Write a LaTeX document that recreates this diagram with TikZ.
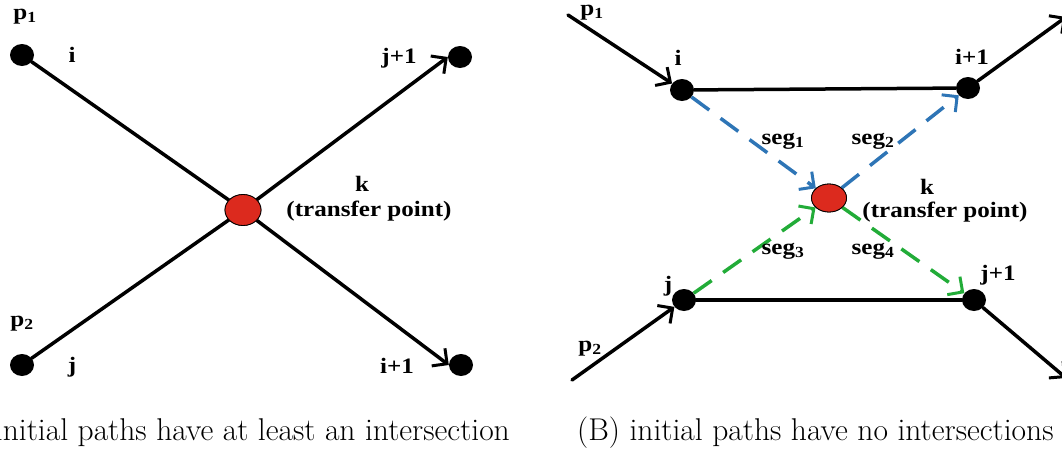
\documentclass[tikz,border=0pt]{standalone}
\usepackage{fontspec}
\newfontfamily\labfont[FakeStretch=1.14]{Liberation Serif}
\usetikzlibrary{arrows.meta,shapes.geometric}
\definecolor{segblue}{RGB}{46,117,182}
\definecolor{seggreen}{RGB}{34,172,56}
\definecolor{tred}{RGB}{220,42,30}
\tikzset{
  dot/.style={ellipse,fill=black,inner sep=0pt,minimum width=24pt,minimum height=22pt},
  tp/.style={ellipse,fill=tred,draw=black,line width=0.8pt,inner sep=0pt,minimum width=36pt,minimum height=31pt},
  lab/.style={font=\labfont\bfseries\fontsize{22}{24}\selectfont,inner sep=0pt},
  blk/.style={line width=3.5pt,line cap=round},
  tip/.style={-{Straight Barb[length=11pt,width=22pt,line width=3pt]}},
  seg/.style={line width=3.5pt,dash pattern=on 22pt off 14pt},
  captxt/.style={font=\fontsize{31.5}{34}\selectfont,inner sep=0pt}
}
\begin{document}
\begin{tikzpicture}[x=1pt,y=-1pt]
\useasboundingbox (0,0) rectangle (1062,450);
% ---------- Panel A ----------
\node[dot] (Ai) at (22,55) {};
\node[dot] (Aj) at (22,365) {};
\node[dot] (Aj1) at (460,57) {};
\node[dot] (Ai1) at (461,365) {};
\node[tp] (Ak) at (243,210) {};
\draw[blk] (Ai) -- (Ak);
\draw[blk,tip] (Ak) -- (Ai1.west);
\draw[blk] (Aj) -- (Ak);
\draw[blk,tip] (Ak) -- (Aj1.west);
\node[tp] at (Ak) {};
\node[lab] (Ap1) at (25,17) {p\textsubscript{1}};
\node[lab] (Ali) at (72,55) {i};
\node[lab] (Alj1) at (399,58) {j+1};
\node[lab] (Alk) at (362,184) {k};
\node[lab] (Altp) at (369,211) {(transfer point)};
\node[lab] (Ap2) at (22,324) {p\textsubscript{2}};
\node[lab] (Alj) at (72,367) {j};
\node[lab] (Ali1) at (397,366) {i+1};
% ---------- Panel B ----------
\coordinate (Bp1s) at (568,15);
\coordinate (Bp2s) at (572,380);
\coordinate (Bo1) at (1066,17);
\coordinate (Bo2) at (1066,378);
\node[dot] (Bi) at (682,90) {};
\node[dot] (Bi1) at (968,88) {};
\node[dot] (Bj) at (684,300) {};
\node[dot] (Bj1) at (974,300) {};
\node[tp,minimum width=35pt,minimum height=28pt] (Bk) at (829,198) {};
\draw[blk] (Bi) -- (Bi1);
\draw[blk] (Bj) -- (Bj1);
\draw[blk,tip] (Bp1s) -- (Bi);
\draw[blk,tip] (Bp2s) -- (Bj);
\draw[blk,tip] (Bi1) -- (Bo1);
\draw[blk,tip] (Bj1) -- (Bo2);
\draw[seg,segblue,tip] (Bi) -- (Bk);
\draw[seg,segblue,tip] (Bk) -- (Bi1);
\draw[seg,seggreen,tip] (Bj) -- (Bk);
\draw[seg,seggreen,tip] (Bk) -- (Bj1);
\node[tp,minimum width=35pt,minimum height=28pt] at (Bk) {};
\node[lab] (Bp1) at (592,13) {p\textsubscript{1}};
\node[lab] (Bp2) at (590,349) {p\textsubscript{2}};
\node[lab] (Bli) at (678,58) {i};
\node[lab] (Bli1) at (972,57) {i+1};
\node[lab] (Blj) at (668,286) {j};
\node[lab] (Blj1) at (998,275) {j+1};
\node[lab] (Bs1) at (783,141) {seg\textsubscript{1}};
\node[lab] (Bs2) at (873,141) {seg\textsubscript{2}};
\node[lab] (Bs3) at (783,251) {seg\textsubscript{3}};
\node[lab] (Bs4) at (873,251) {seg\textsubscript{4}};
\node[lab] (Blk) at (927,187) {k};
\node[lab] (Bltp) at (945,212) {(transfer point)};
% ---------- Captions ----------
\node[captxt,anchor=base east] (capA) at (510,440) {(A) initial paths have at least an intersection};
\node[captxt,anchor=base west] (capB) at (577,440) {(B) initial paths have no intersections};
\end{tikzpicture}
\end{document}
